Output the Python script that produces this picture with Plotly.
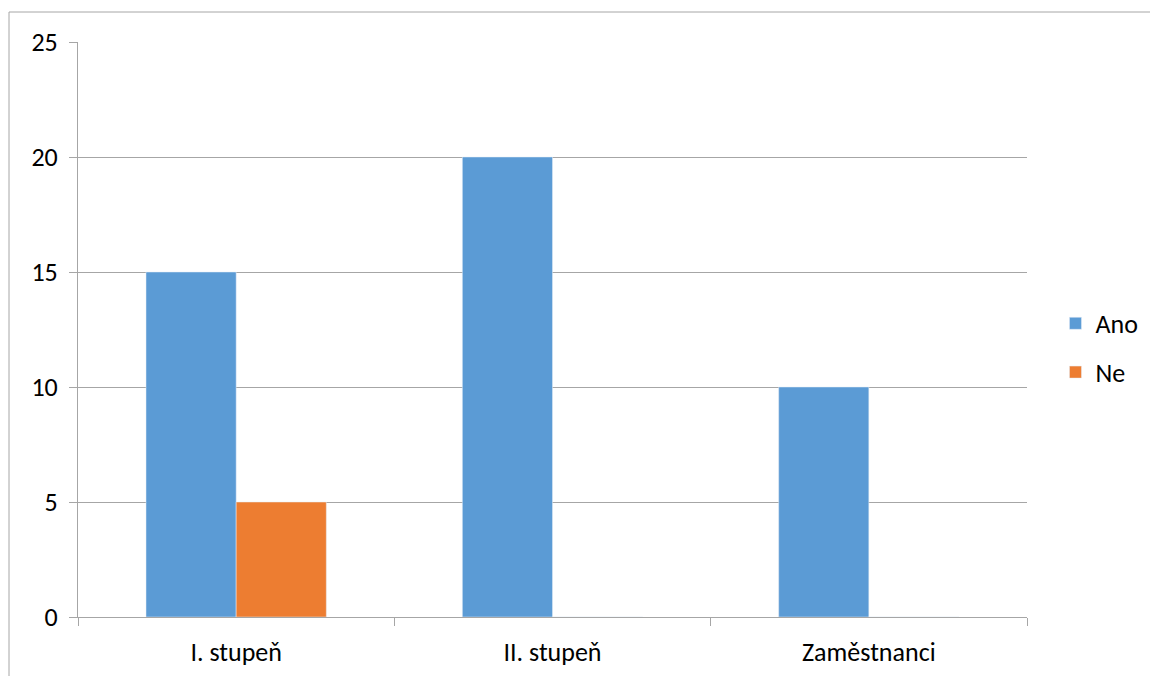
import plotly.graph_objects as go

categories = ["I. stupeň", "II. stupeň", "Zaměstnanci"]
ano_values = [15, 20, 10]
ne_values = [5, 0, 0]
y_ticks = [0, 5, 10, 15, 20, 25]

GRID = "#a6a6a6"
FONT = "Carlito, Lato, 'Open Sans', sans-serif"

fig = go.Figure()
fig.add_trace(go.Bar(name="Ano", x=categories, y=ano_values, marker_color="#5B9BD5",
                     legendgroup="a"))
fig.add_trace(go.Bar(name="Ne", x=categories, y=ne_values, marker_color="#ED7D31",
                     legendgroup="b"))

# page body has an 8px margin: compensate so plot lands where the reference has it
fig.update_layout(
    width=1150, height=668,
    margin=dict(l=70, r=131, t=34, b=59, autoexpand=False),
    paper_bgcolor="white", plot_bgcolor="white",
    barmode="group", bargap=0.43, bargroupgap=0,
    font=dict(family=FONT, size=26, color="#000000"),
    legend=dict(x=1.030, y=0.468, xanchor="left", yanchor="middle",
                traceorder="grouped", tracegroupgap=12,
                font=dict(size=26), itemwidth=30),
    showlegend=True,
)
fig.update_xaxes(
    type="category", showline=True, linecolor=GRID, linewidth=1,
    ticks="outside", tickson="boundaries", ticklen=8, tickcolor=GRID,
    showgrid=False, ticklabelstandoff=12, automargin=False,
)
fig.update_yaxes(
    range=[0, 25], tickvals=y_ticks, showline=True, linecolor=GRID, linewidth=1,
    ticks="outside", ticklen=8, tickcolor=GRID,
    showgrid=True, gridcolor=GRID, gridwidth=1, zeroline=False,
    ticklabelstandoff=6, automargin=False,
)
# outer chart border (top and left visible)
fig.add_shape(type="rect", xref="paper", yref="paper",
              x0=(1 - 70) / 949, x1=1.3, y0=-0.3, y1=(609 - 4) / 575,
              line=dict(color=GRID, width=1), fillcolor="rgba(0,0,0,0)", layer="below")

fig.write_html("out.html")
